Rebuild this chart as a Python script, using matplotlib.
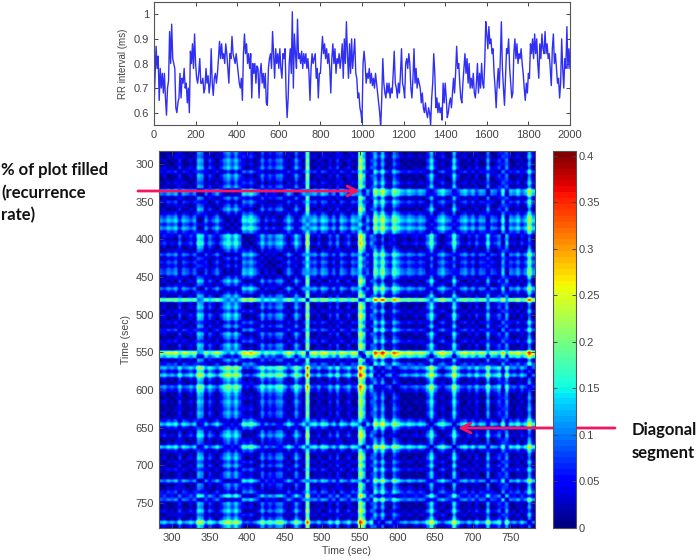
import numpy as np
import matplotlib.pyplot as plt

plt.rcParams['font.family'] = ['Liberation Sans', 'DejaVu Sans']

# RR interval trace, one reading every 5 samples
rr_values = [
    .62,.74,.87,.78,.83,.65,.78,.70,.76,.68,.76,.66,.59,.70,.73,.93,.80,.96,.82,.80,
    .78,.62,.60,.64,.66,.76,.66,.74,.72,.78,.70,.72,.64,.70,.60,.85,.80,.88,.78,.92,
    .80,.74,.72,.76,.82,.72,.72,.74,.68,.70,.78,.72,.75,.68,.72,.86,.72,.67,.74,.76,
    .72,.76,.82,.89,.82,.88,.82,.84,.80,.88,.84,.78,.72,.84,.82,.91,.84,.82,.80,.84,
    .80,.76,.72,.70,.74,.65,.84,.92,.84,.88,.80,.84,.78,.84,.66,.80,.76,.80,.72,.79,
    .78,.66,.76,.80,.72,.76,.70,.76,.64,.63,.78,.82,.84,.78,.93,.84,.74,.86,.80,.84,
    .78,.86,.78,.74,.84,.82,.86,.68,.58,.66,.80,.86,.76,1.01,.70,.92,.84,.78,.98,.82,
    .84,.80,.85,.78,.84,.80,.84,.78,.82,.76,.65,.78,.84,.80,.82,.84,.74,.78,.66,.76,
    .76,.84,.91,.84,.88,.82,.86,.80,.84,.78,.68,.82,.88,.80,.86,.76,.82,.80,.84,.78,
    .82,.88,.74,.90,.80,.97,.84,.74,.88,.76,.90,.78,.84,.90,.76,.74,.66,.68,.62,.60,
    .56,.80,.85,.80,.72,.76,.74,.78,.72,.76,.71,.74,.70,.76,.72,.68,.64,.60,.54,.66,
    .82,.72,.68,.66,.72,.68,.72,.66,.70,.68,.76,.85,.72,.70,.66,.72,.68,.76,.86,.72,
    .70,.66,.80,.82,.78,.84,.80,.70,.66,.74,.86,.72,.78,.70,.74,.72,.70,.64,.68,.62,
    .60,.64,.60,.58,.62,.60,.55,.66,.72,.84,.76,.62,.66,.60,.64,.60,.62,.57,.72,.64,
    .72,.66,.58,.60,.64,.66,.62,.68,.74,.68,.76,.87,.78,.80,.72,.66,.64,.72,.78,.84,
    .76,.82,.72,.80,.70,.74,.70,.76,.68,.66,.72,.80,.68,.76,.70,.80,.72,.70,.80,.97,
    .92,.86,.95,.88,.90,.84,.86,.76,.70,.62,.72,.78,.70,.82,.97,.78,.70,.63,.74,.86,
    .84,.90,.78,.72,.66,.68,.84,.90,.82,.88,.80,.84,.82,.86,.80,.76,.70,.65,.72,.68,
    .76,.74,.88,.84,.90,.82,.92,.84,.90,.80,.74,.88,.82,.92,.86,.84,.93,.84,.88,.82,
    .84,.78,.71,.86,.92,.80,.84,.78,.72,.74,.66,.72,.90,.78,.70,.82,.78,.95,.78,.86,.78,
]

# level of the signal in each 5 s cell, the recurrence plot is the pairwise distance of these
levels = [
    .82,.80,.84,.82,.85,.77,.84,.82,.79,.83,.70,.72,.82,.76,.80,.84,.78,.73,.70,.75,
    .70,.76,.87,.85,.88,.84,.80,.73,.79,.75,.78,.74,.73,.79,.85,.80,.72,.78,.84,.61,
    .83,.85,.80,.86,.84,.78,.83,.76,.85,.82,.78,.85,.83,.59,.68,.83,.76,.94,.87,.95,
    .85,.82,.92,.88,.84,.82,.85,.83,.81,.84,.82,.76,.68,.78,.84,.87,.82,.80,.68,.78,
    .83,.85,.80,.84,.78,.83,.82,.71,.82,.80,.76,.88,.73,.84,.82,.86,.80,.84,.95,.85,
]

rr_ticks = [0, 200, 400, 600, 800, 1000, 1200, 1400, 1600, 1800, 2000]
rr_yticks = [0.6, 0.7, 0.8, 0.9, 1]
time_ticks = [300, 350, 400, 450, 500, 550, 600, 650, 700, 750]
cbar_ticks = [0, 0.05, 0.1, 0.15, 0.2, 0.25, 0.3, 0.35, 0.4]
cbar_labels = ['0', '0.05', '0.1', '0.15', '0.2', '0.25', '0.3', '0.35', '0.4']

W, H = 700, 560
grey = '#444444'
pink = '#f5145f'


def px_axes(left, top, right, bottom):
    return fig.add_axes([left / W, 1 - bottom / H, (right - left) / W, (bottom - top) / H])


fig = plt.figure(figsize=(7, 5.6), dpi=100)

# top trace
ax1 = px_axes(154, 2, 570, 125)
ax1.plot(np.arange(len(rr_values)) * 5, rr_values, color='#3030f5', lw=1.0)
ax1.set_xlim(0, 2000)
ax1.set_ylim(0.55, 1.05)
ax1.set_xticks(rr_ticks)
ax1.set_yticks(rr_yticks)
ax1.set_yticklabels(['0.6', '0.7', '0.8', '0.9', '1'])
ax1.set_ylabel('RR interval (ms)', fontsize=7, color=grey, labelpad=4)
ax1.tick_params(direction='in', top=True, right=True, length=3, width=0.7,
                labelsize=8, colors=grey)

# recurrence plot
lv = np.array(levels)
dist = np.abs(lv[:, None] - lv[None, :])
ax2 = px_axes(159, 151, 535, 528)
im = ax2.imshow(dist, cmap=plt.get_cmap('jet', 64), vmin=0, vmax=0.405, aspect='auto',
                extent=[283, 783, 783, 283], interpolation='hanning')
ax2.set_xticks(time_ticks)
ax2.set_yticks(time_ticks)
ax2.set_xlabel('Time (sec)', fontsize=7.5, color=grey, labelpad=2)
ax2.set_ylabel('Time (sec)', fontsize=7.5, color=grey, labelpad=3)
ax2.tick_params(direction='in', top=True, right=True, length=3, width=0.7,
                labelsize=8, colors=grey)

# colorbar
cax = px_axes(553, 151, 576, 528)
cbar = fig.colorbar(im, cax=cax)
cbar.set_ticks(cbar_ticks)
cbar.set_ticklabels(cbar_labels)
cax.tick_params(direction='in', left=True, right=True, length=3, width=0.7,
                labelsize=8, colors=grey, pad=2)

for ax in [ax1, ax2, cax]:
    for s in ax.spines.values():
        s.set_color('#555555')
        s.set_linewidth(0.8)

# annotations
for txt, y in [('% of plot filled', 170), ('(recurrence', 193), ('rate)', 215)]:
    fig.text(1 / W, 1 - y / H, txt, family=['Lato', 'DejaVu Sans'], weight='bold',
             fontsize=12, color='#111111', va='center')
for txt, y in [('Diagonal', 430), ('segment', 453)]:
    fig.text(632 / W, 1 - y / H, txt, family=['Lato', 'DejaVu Sans'], weight='bold',
             fontsize=12, color='#111111', va='center')

arrow = dict(arrowstyle='->,head_length=0.7,head_width=0.35', color=pink, lw=2,
             shrinkA=0, shrinkB=0)
ax2.annotate('', xy=(360 / W, 1 - 191 / H), xytext=(138 / W, 1 - 191 / H),
             xycoords='figure fraction', textcoords='figure fraction', arrowprops=arrow)
ax2.annotate('', xy=(458 / W, 1 - 428 / H), xytext=(615 / W, 1 - 428 / H),
             xycoords='figure fraction', textcoords='figure fraction', arrowprops=arrow)

fig.savefig('out.png', dpi=100)
